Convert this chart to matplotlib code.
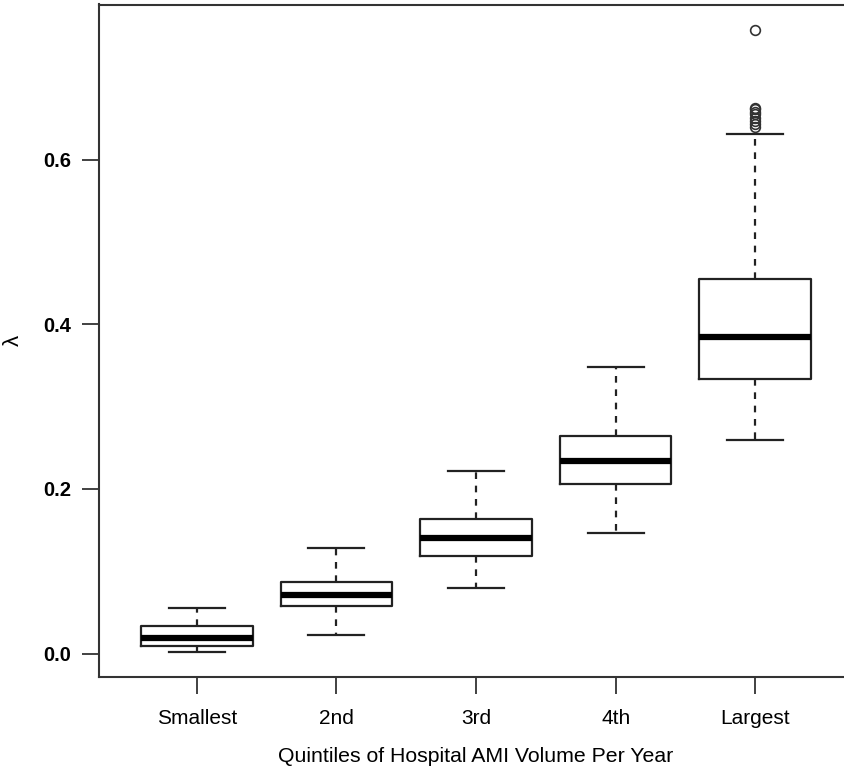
import matplotlib
matplotlib.use('Agg')
import matplotlib.pyplot as plt

categories = ['Smallest', '2nd', '3rd', '4th', 'Largest']
whisker_low = [0.0016, 0.0222, 0.080, 0.147, 0.259]
q1 = [0.0096, 0.0574, 0.1185, 0.2064, 0.3335]
median = [0.0193, 0.0708, 0.140, 0.234, 0.384]
q3 = [0.0335, 0.087, 0.1635, 0.264, 0.4546]
whisker_high = [0.0558, 0.128, 0.2218, 0.348, 0.6315]
outliers = [[], [], [], [], [0.640, 0.643, 0.647, 0.651, 0.655, 0.658, 0.661, 0.663, 0.758]]
yticks = [0.0, 0.2, 0.4, 0.6]
ytick_labels = ['0.0', '0.2', '0.4', '0.6']

plt.rcParams['font.family'] = ['Liberation Sans', 'DejaVu Sans']

fig = plt.figure(figsize=(8.44, 7.69), dpi=100)
ax = fig.add_axes([99 / 844, (769 - 676.7) / 769, 754 / 844, 672.2 / 769])

stats = []
for i, c in enumerate(categories):
    stats.append(dict(label=c, whislo=whisker_low[i], q1=q1[i], med=median[i],
                      q3=q3[i], whishi=whisker_high[i], fliers=outliers[i]))

lc = '#222222'
ax.bxp(stats, positions=range(1, len(categories) + 1), widths=0.8, capwidths=0.4,
       showfliers=True,
       boxprops=dict(color=lc, lw=1.6),
       medianprops=dict(color='black', lw=4.5),
       whiskerprops=dict(color=lc, lw=1.6, linestyle=(0, (3, 3))),
       capprops=dict(color=lc, lw=1.6),
       flierprops=dict(marker='o', markerfacecolor='none', markeredgecolor='#333333',
                       markersize=7, markeredgewidth=1.2))

ax.set_xlim(0.3, 5.7)
ax.set_ylim(-0.0281, 0.7884)
ax.set_yticks(yticks)
ax.set_yticklabels(ytick_labels, fontsize=14.5, fontweight='bold')
ax.set_xticks(range(1, len(categories) + 1))
ax.set_xticklabels(categories, fontsize=15)
ax.tick_params(axis='both', length=12, width=1.3, color='#333333')
ax.tick_params(axis='y', pad=8)
ax.tick_params(axis='x', pad=11)
for s in ax.spines.values():
    s.set_color('#333333')
    s.set_linewidth(1.5)

ax.set_xlabel('Quintiles of Hospital AMI Volume Per Year', fontsize=15.3, labelpad=14)
ax.set_ylabel('λ', fontsize=16, labelpad=14)

fig.savefig('out.png', dpi=100)
